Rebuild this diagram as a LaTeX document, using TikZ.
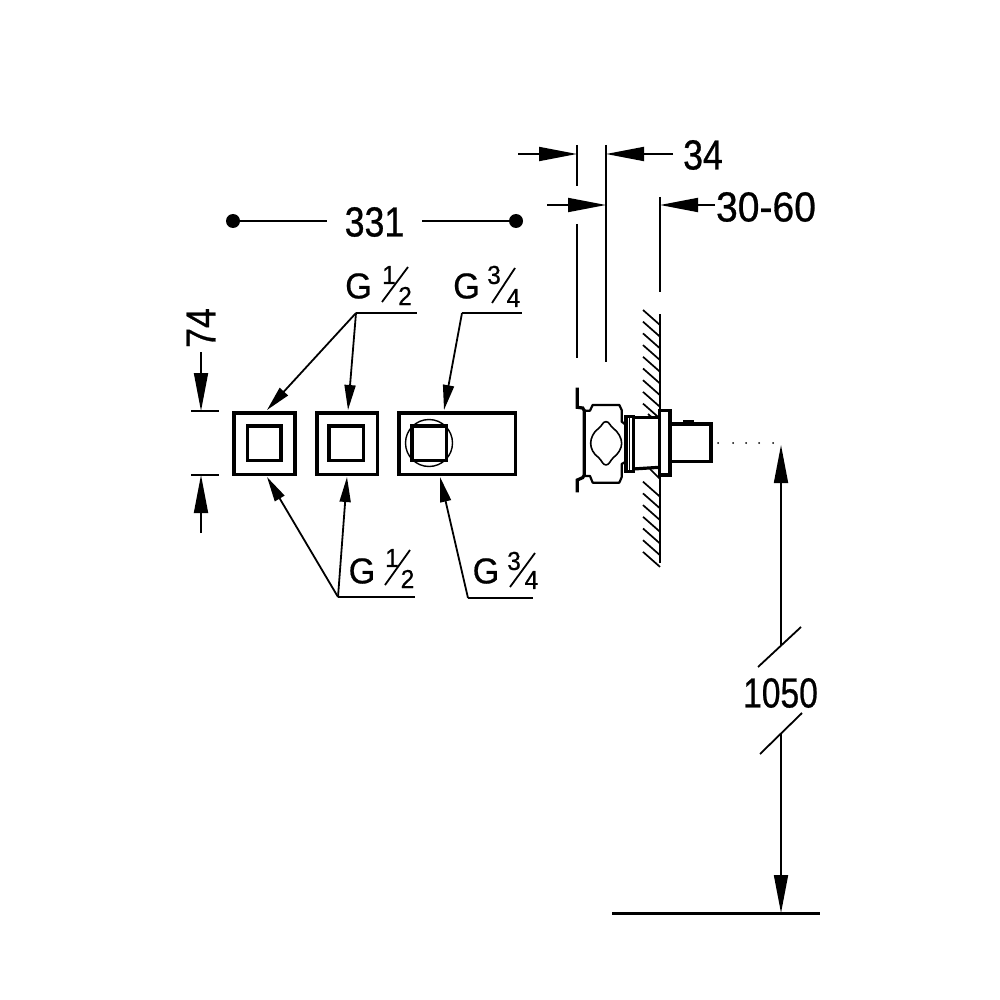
\documentclass[tikz,border=0pt]{standalone}
\usepackage{fontspec}
\usepackage{graphicx}
\setmainfont{Liberation Sans}
\newfontfamily\boldishA[FakeBold=0.7]{Liberation Sans}
\newfontfamily\boldishB[FakeBold=0.5]{Liberation Sans}
\usetikzlibrary{arrows.meta}
\newcommand{\dimfont}[1]{\scalebox{.85}[1]{\fontsize{42}{42}\boldishA #1}}
\newcommand{\dimfontB}[1]{\scalebox{.93}[1]{\fontsize{42}{42}\boldishA #1}}
\newcommand{\dimfontC}[1]{\scalebox{.80}[1]{\fontsize{42}{42}\boldishA #1}}
\newcommand{\gfont}[1]{\scalebox{.95}[1]{\fontsize{36}{36}\boldishB #1}}
\newcommand{\fracfont}[1]{\scalebox{.95}[1]{\fontsize{26}{26}\boldishB #1}}
\tikzset{
  txt/.style={inner sep=0pt,outer sep=0pt,anchor=center},
  dimline/.style={line width=1.8pt,black},
  bigarrow/.style={dimline,-{Triangle[length=38pt,width=14pt]}},
  leader/.style={dimline,-{Triangle[length=25pt,width=11pt]}},
  part/.style={line width=3.8pt,black,line join=miter},
  thinpart/.style={line width=3.2pt,black,line join=miter},
  hatch/.style={line width=1.7pt,black},
  valve/.style={line width=2.2pt,black,line join=round},
}
\begin{document}
\begin{tikzpicture}[x=1pt,y=-1pt]
\useasboundingbox (0,0) rectangle (1000,1000);
\fill[white] (0,0) rectangle (1000,1000);

% 331
\node[txt] (t331) at (374.5,222) {\dimfont{331}};
\node[circle,fill=black,minimum size=14pt,inner sep=0pt] (dotL) at (233,221) {};
\node[circle,fill=black,minimum size=14pt,inner sep=0pt] (dotR) at (516,221) {};
\coordinate (d1) at (327,221);
\coordinate (d2) at (422,221);
\draw[dimline] (dotL) -- (d1);
\draw[dimline] (d2) -- (dotR);

% front plates
\draw[part] (233.6,412.8) rectangle (295.2,474.4);
\draw[part] (247.4,425.6) rectangle (281.2,460.4);
\draw[part] (316.6,412.8) rectangle (377.4,474.4);
\draw[part] (328.6,425.6) rectangle (363.4,460.4);
\draw[part] (398.6,412.8) rectangle (515.4,474.4);
\draw[part] (411.6,425.6) rectangle (446.4,460.4);
\draw[line width=1.4pt] (429,443) circle (23.5);

% 74
\node[txt,rotate=90] (t74) at (201,328) {\dimfont{74}};
\coordinate (e1a) at (191,411); \coordinate (e1b) at (219,411);
\coordinate (e2a) at (191,475); \coordinate (e2b) at (219,475);
\draw[dimline] (e1a) -- (e1b);
\draw[dimline] (e2a) -- (e2b);
\coordinate (a1s) at (201,352); \coordinate (a1e) at (201,411);
\coordinate (a2s) at (201,533); \coordinate (a2e) at (201,475);
\draw[bigarrow] (a1s) -- (a1e);
\draw[bigarrow] (a2s) -- (a2e);

% top labels
\node[txt] (g1) at (358.5,286) {\gfont{G}};
\node[txt] (g1n) at (389,275) {\fracfont{1}};
\node[txt] (g1d) at (405,296) {\fracfont{2}};
\coordinate (s1a) at (382,302); \coordinate (s1b) at (408,267);
\draw[dimline] (s1a) -- (s1b);
\node[txt] (g2) at (466.5,286) {\gfont{G}};
\node[txt] (g2n) at (494,275) {\fracfont{3}};
\node[txt] (g2d) at (513.5,298) {\fracfont{4}};
\coordinate (s2a) at (492,303); \coordinate (s2b) at (515,268);
\draw[dimline] (s2a) -- (s2b);

% bottom labels
\node[txt] (g3) at (362,571) {\gfont{G}};
\node[txt] (g3n) at (392,558) {\fracfont{1}};
\node[txt] (g3d) at (407.5,579) {\fracfont{2}};
\coordinate (s3a) at (385,585); \coordinate (s3b) at (410,550);
\draw[dimline] (s3a) -- (s3b);
\node[txt] (g4) at (486,571) {\gfont{G}};
\node[txt] (g4n) at (514,561) {\fracfont{3}};
\node[txt] (g4d) at (531.5,580) {\fracfont{4}};
\coordinate (s4a) at (510,587); \coordinate (s4b) at (535,553);
\draw[dimline] (s4a) -- (s4b);

% leaders
\coordinate (l1) at (356,313); \coordinate (l1e) at (417,313);
\coordinate (l2) at (462,313); \coordinate (l2e) at (522,313);
\coordinate (l3) at (338,597); \coordinate (l3e) at (415,597);
\coordinate (l4) at (468,598); \coordinate (l4e) at (533,598);
\coordinate (p1) at (267,410); \coordinate (p2) at (348,410); \coordinate (p3) at (444,410);
\coordinate (q1) at (267,477); \coordinate (q2) at (347,477); \coordinate (q3) at (440,477);
\draw[dimline] (l1) -- (l1e);
\draw[dimline] (l2) -- (l2e);
\draw[dimline] (l3) -- (l3e);
\draw[dimline] (l4) -- (l4e);
\draw[leader] (l1) -- (p1);
\draw[leader] (l1) -- (p2);
\draw[leader] (l2) -- (p3);
\draw[leader] (l3) -- (q1);
\draw[leader] (l3) -- (q2);
\draw[leader] (l4) -- (q3);

% 34 and 30-60
\node[txt] (t34) at (703,155) {\dimfont{34}};
\node[txt] (t3060) at (766,207) {\dimfontB{30-60}};
\coordinate (v1a) at (577,145); \coordinate (v1b) at (577,186);
\coordinate (v1c) at (577,224); \coordinate (v1d) at (577,358);
\coordinate (v2a) at (606,145); \coordinate (v2b) at (606,362);
\coordinate (v3a) at (660,197); \coordinate (v3b) at (660,292);
\coordinate (w1) at (660,314); \coordinate (w2) at (660,563);
\draw[dimline] (v1a) -- (v1b);
\draw[dimline] (v1c) -- (v1d);
\draw[dimline] (v2a) -- (v2b);
\draw[dimline] (v3a) -- (v3b);
\draw[line width=2.2pt] (w1) -- (w2);
\coordinate (b1s) at (518,154); \coordinate (b1e) at (577,154);
\coordinate (b2s) at (673,154); \coordinate (b2e) at (606,154);
\coordinate (b3s) at (547,205); \coordinate (b3e) at (606,205);
\coordinate (b4s) at (715,205); \coordinate (b4e) at (660,205);
\draw[bigarrow] (b1s) -- (b1e);
\draw[bigarrow] (b2s) -- (b2e);
\draw[bigarrow] (b3s) -- (b3e);
\draw[bigarrow] (b4s) -- (b4e);

% wall hatching
\foreach \y in {310,321.7,333.4,345.1,356.8,368.5,380.2,391.9,403.6}
  \draw[hatch] (643,\y) -- (660,\y+15);
\draw[hatch] (648,414) -- (656,421);
\draw[hatch] (650,469) -- (660,479);
\foreach \y in {481.7,493.4,505.1,516.8,528.5,540.2,551.9}
  \draw[hatch] (643,\y) -- (660,\y+15);

% valve (zoom coordinates)
\begin{scope}[shift={(540,290)},x=0.3333pt,y=-0.3333pt]
  \fill[white] (280,383) -- (358,383) -- (358,530) -- (280,537) -- cycle;
  \draw[thinpart] (112,293) -- (112,352) -- (128,354) -- (133,362) -- (133,555) -- (128,563) -- (112,570) -- (112,607);
  \draw[valve] (133,362) -- (150,362) -- (158,345) -- (238,345) -- (245,360) -- (245,395) -- (258,405);
  \draw[valve] (133,558) -- (150,558) -- (158,578) -- (238,578) -- (245,562) -- (245,522) -- (258,515);
  \draw[line width=1.6pt,line join=round] (198,395) .. controls (208,395) and (210,408) .. (220,415)
     .. controls (235,426) and (245,445) .. (245,460)
     .. controls (245,475) and (235,492) .. (220,503)
     .. controls (210,512) and (208,525) .. (198,525)
     .. controls (188,525) and (186,512) .. (176,503)
     .. controls (160,492) and (152,475) .. (152,460)
     .. controls (152,445) and (160,426) .. (176,415)
     .. controls (186,408) and (188,395) .. (198,395) -- cycle;
  \draw[thinpart] (258,379) rectangle (280,544);
  \draw[line width=1.5pt] (269,379) -- (269,544);
  \draw[thinpart] (280,383) -- (358,383);
  \draw[thinpart] (280,537) -- (358,532);
  \fill[white] (358,362) rectangle (390,555);
  \draw[thinpart] (358,362) rectangle (390,555);
  \draw[thinpart] (395,402) -- (513,402) -- (513,515) -- (395,515);
  \fill (430,390) rectangle (462,402);
  \fill (513,445) rectangle (518,473);
\end{scope}

% dotted projection
\foreach \x in {718,733,746,759,773}
  \fill (\x,443) circle (1);

% 1050
\node[txt] (t1050) at (780.5,693) {\dimfontC{1050}};
\coordinate (h1) at (781,645); \coordinate (h1t) at (781,445);
\coordinate (h2) at (781,733); \coordinate (h2t) at (781,913);
\draw[bigarrow] (h1) -- (h1t);
\draw[bigarrow] (h2) -- (h2t);
\coordinate (c1a) at (758,667); \coordinate (c1b) at (801,627);
\coordinate (c2a) at (760,754); \coordinate (c2b) at (802,713);
\draw[dimline] (c1a) -- (c1b);
\draw[dimline] (c2a) -- (c2b);
\coordinate (f1) at (612,913); \coordinate (f2) at (820,913);
\draw[line width=3pt] (f1) -- (f2);
\end{tikzpicture}
\end{document}
